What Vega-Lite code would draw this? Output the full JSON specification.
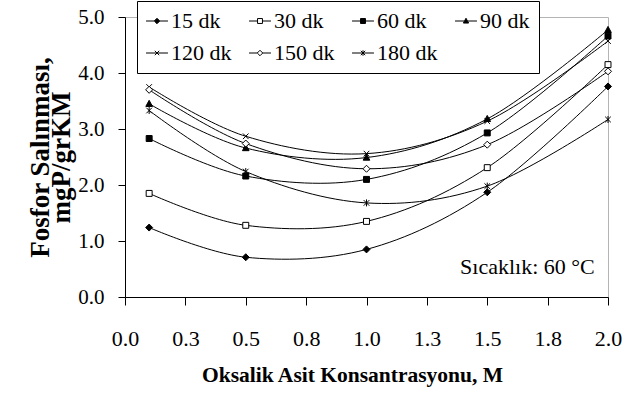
{
  "$schema": "https://vega.github.io/schema/vega-lite/v6.json",
  "width": 483,
  "height": 280,
  "autosize": {"type": "none"},
  "padding": {"left": 125, "top": 17, "right": 31, "bottom": 110},
  "config": {
    "font": "Liberation Serif",
    "view": {"stroke": "#b4b4b4", "strokeWidth": 1},
    "axis": {"grid": false, "domainColor": "black", "tickColor": "black", "labelColor": "black", "titleColor": "black", "domainWidth": 1, "tickWidth": 1}
  },
  "data": {"values": [
    {"series": "15 dk", "x": 0.1, "y": 1.24}, {"series": "15 dk", "x": 0.5, "y": 0.71}, {"series": "15 dk", "x": 1.0, "y": 0.85}, {"series": "15 dk", "x": 1.5, "y": 1.87}, {"series": "15 dk", "x": 2.0, "y": 3.76},
    {"series": "30 dk", "x": 0.1, "y": 1.85}, {"series": "30 dk", "x": 0.5, "y": 1.28}, {"series": "30 dk", "x": 1.0, "y": 1.35}, {"series": "30 dk", "x": 1.5, "y": 2.31}, {"series": "30 dk", "x": 2.0, "y": 4.15},
    {"series": "60 dk", "x": 0.1, "y": 2.83}, {"series": "60 dk", "x": 0.5, "y": 2.16}, {"series": "60 dk", "x": 1.0, "y": 2.10}, {"series": "60 dk", "x": 1.5, "y": 2.93}, {"series": "60 dk", "x": 2.0, "y": 4.66},
    {"series": "90 dk", "x": 0.1, "y": 3.45}, {"series": "90 dk", "x": 0.5, "y": 2.66}, {"series": "90 dk", "x": 1.0, "y": 2.49}, {"series": "90 dk", "x": 1.5, "y": 3.18}, {"series": "90 dk", "x": 2.0, "y": 4.77},
    {"series": "120 dk", "x": 0.1, "y": 3.75}, {"series": "120 dk", "x": 0.5, "y": 2.87}, {"series": "120 dk", "x": 1.0, "y": 2.56}, {"series": "120 dk", "x": 1.5, "y": 3.14}, {"series": "120 dk", "x": 2.0, "y": 4.57},
    {"series": "150 dk", "x": 0.1, "y": 3.70}, {"series": "150 dk", "x": 0.5, "y": 2.74}, {"series": "150 dk", "x": 1.0, "y": 2.29}, {"series": "150 dk", "x": 1.5, "y": 2.72}, {"series": "150 dk", "x": 2.0, "y": 4.03},
    {"series": "180 dk", "x": 0.1, "y": 3.33}, {"series": "180 dk", "x": 0.5, "y": 2.24}, {"series": "180 dk", "x": 1.0, "y": 1.68}, {"series": "180 dk", "x": 1.5, "y": 1.98}, {"series": "180 dk", "x": 2.0, "y": 3.17}
  ]},
  "resolve": {"scale": {"shape": "independent", "fill": "independent", "stroke": "independent"}},
  "layer": [
    {
      "mark": {"type": "line", "interpolate": "cardinal", "color": "black", "strokeWidth": 1},
      "encoding": {
        "x": {"field": "x", "type": "quantitative",
          "scale": {"domain": [0, 2], "nice": false, "zero": false},
          "axis": {"values": [0, 0.25, 0.5, 0.75, 1, 1.25, 1.5, 1.75, 2], "format": ".1f", "tickSize": 8, "labelPadding": 23, "labelFontSize": 22, "labelFlush": false,
            "title": "Oksalik Asit Konsantrasyonu, M", "titleFontSize": 21.5, "titleFontWeight": "bold", "titlePadding": 15, "titleX": 227}},
        "y": {"field": "y", "type": "quantitative",
          "scale": {"domain": [0, 5], "nice": false},
          "axis": {"values": [0, 1, 2, 3, 4, 5], "format": ".1f", "tickSize": 7, "labelPadding": 14, "labelFontSize": 21, "labelFlush": false,
            "title": ["Fosfor Salınması,", "mgP/grKM"], "titleFontSize": 27, "titleFontWeight": "bold", "titleLineHeight": 21, "titlePadding": 2}},
        "detail": {"field": "series"}
      }
    },
    {
      "mark": {"type": "point", "filled": true, "stroke": "black", "strokeWidth": 1, "size": 49, "opacity": 1},
      "encoding": {
        "x": {"field": "x", "type": "quantitative"},
        "y": {"field": "y", "type": "quantitative"},
        "shape": {"field": "series", "type": "nominal", "legend": null,
          "scale": {"domain": ["15 dk", "30 dk", "60 dk", "90 dk", "120 dk", "150 dk", "180 dk"],
            "range": ["M0,-1L1,0L0,1L-1,0Z", "M-0.85,-0.85H0.85V0.85H-0.85Z", "M-0.85,-0.85H0.85V0.85H-0.85Z", "M0,-1L0.95,0.75H-0.95Z", "M-0.8,-0.8L0.8,0.8M-0.8,0.8L0.8,-0.8", "M0,-1L1,0L0,1L-1,0Z", "M-0.8,-0.8L0.8,0.8M-0.8,0.8L0.8,-0.8M0,-1V1"]}},
        "fill": {"field": "series", "type": "nominal", "legend": null,
          "scale": {"domain": ["15 dk", "30 dk", "60 dk", "90 dk", "120 dk", "150 dk", "180 dk"],
            "range": ["black", "white", "black", "black", "transparent", "white", "transparent"]}}
      }
    },
    {
      "mark": {"type": "point", "filled": true, "strokeWidth": 1, "size": 30, "opacity": 0},
      "encoding": {
        "x": {"field": "x", "type": "quantitative"},
        "y": {"field": "y", "type": "quantitative"},
        "shape": {"field": "series", "type": "nominal",
          "scale": {"domain": ["15 dk", "30 dk", "60 dk", "90 dk", "120 dk", "150 dk", "180 dk"],
            "range": ["M0,-1L1,0L0,1L-1,0ZM-4,0H-1M1,0H4", "M-0.9,-0.9H0.9V0.9H-0.9ZM-4,0H-0.9M0.9,0H4", "M-0.9,-0.9H0.9V0.9H-0.9ZM-4,0H-0.9M0.9,0H4", "M0,-1L0.95,0.75H-0.95ZM-4,0H-0.6M0.6,0H4", "M-0.8,-0.8L0.8,0.8M-0.8,0.8L0.8,-0.8M-4,0H4", "M0,-1L1,0L0,1L-1,0ZM-4,0H-1M1,0H4", "M-0.8,-0.8L0.8,0.8M-0.8,0.8L0.8,-0.8M0,-1V1M-4,0H4"]},
          "legend": {"title": null, "orient": "none", "legendX": 12, "legendY": -16, "direction": "horizontal", "columns": 4,
            "strokeColor": "black", "fillColor": "white", "padding": 9, "labelFontSize": 22, "labelColor": "black", "labelFont": "Liberation Serif",
            "symbolSize": 30, "symbolOpacity": 1, "symbolStrokeWidth": 1, "labelOffset": 3, "columnPadding": 15, "rowPadding": 10}},
        "fill": {"field": "series", "type": "nominal",
          "scale": {"domain": ["15 dk", "30 dk", "60 dk", "90 dk", "120 dk", "150 dk", "180 dk"],
            "range": ["black", "white", "black", "black", "transparent", "white", "transparent"]},
          "legend": {"title": null, "orient": "none", "legendX": 12, "legendY": -16, "direction": "horizontal", "columns": 4,
            "strokeColor": "black", "fillColor": "white", "padding": 9, "labelFontSize": 22, "labelColor": "black", "labelFont": "Liberation Serif",
            "symbolSize": 30, "symbolOpacity": 1, "symbolStrokeWidth": 1, "labelOffset": 3, "columnPadding": 15, "rowPadding": 10}},
        "stroke": {"field": "series", "type": "nominal",
          "scale": {"domain": ["15 dk", "30 dk", "60 dk", "90 dk", "120 dk", "150 dk", "180 dk"],
            "range": ["black", "black", "black", "black", "black", "black", "black"]},
          "legend": {"title": null, "orient": "none", "legendX": 12, "legendY": -16, "direction": "horizontal", "columns": 4,
            "strokeColor": "black", "fillColor": "white", "padding": 9, "labelFontSize": 22, "labelColor": "black", "labelFont": "Liberation Serif",
            "symbolSize": 30, "symbolOpacity": 1, "symbolStrokeWidth": 1, "labelOffset": 3, "columnPadding": 15, "rowPadding": 10}}
      }
    },
    {
      "data": {"values": [{"note": "Sıcaklık: 60 °C"}]},
      "mark": {"type": "text", "align": "right", "baseline": "middle", "fontSize": 22, "color": "black"},
      "encoding": {"x": {"datum": 1.945, "type": "quantitative"}, "y": {"datum": 0.54, "type": "quantitative"}, "text": {"field": "note", "type": "nominal"}}
    }
  ]
}
